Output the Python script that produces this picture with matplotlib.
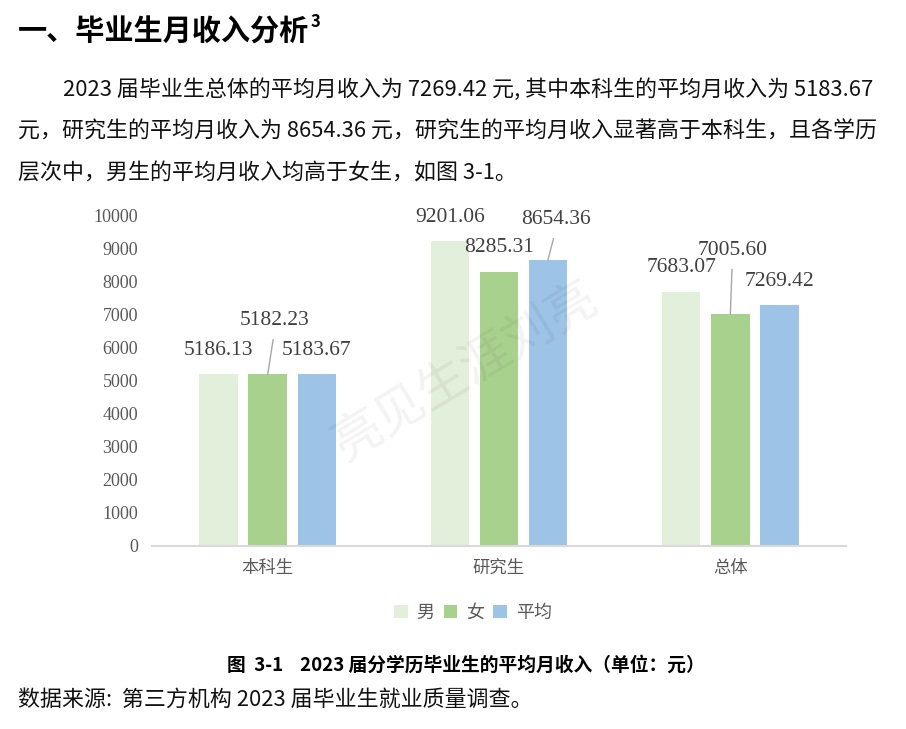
import matplotlib
matplotlib.use('Agg')
import matplotlib.pyplot as plt
from matplotlib.patches import Patch
import numpy as np

# 数据
categories = ['本科生', '研究生', '总体']
series_names = ['男', '女', '平均']
male = [5186.13, 9201.06, 7683.07]
female = [5182.23, 8285.31, 7005.60]
average = [5183.67, 8654.36, 7269.42]
yticks = [0, 1000, 2000, 3000, 4000, 5000, 6000, 7000, 8000, 9000, 10000]

heading = '一、毕业生月收入分析'
para_lines = [
    '2023 届毕业生总体的平均月收入为 7269.42 元, 其中本科生的平均月收入为 5183.67',
    '元，研究生的平均月收入为 8654.36 元，研究生的平均月收入显著高于本科生，且各学历',
    '层次中，男生的平均月收入均高于女生，如图 3-1。',
]
caption = '图  3-1    2023 届分学历毕业生的平均月收入（单位：元）'
source = '数据来源:  第三方机构 2023 届毕业生就业质量调查。'
watermark = '亮见生涯刘亮'

colors = ['#E2EFDA', '#A9D18E', '#9DC3E6']
CJK = ['Noto Sans CJK SC', 'DejaVu Sans']
NUM = ['Liberation Serif', 'Noto Sans CJK SC']
plt.rcParams['font.family'] = CJK

W, H = 906, 729
fig = plt.figure(figsize=(W / 100, H / 100), dpi=100)
fig.patch.set_facecolor('white')


def fx(px):
    return px / W


def fy(py):
    return 1 - py / H


# 标题与正文
ht = fig.text(fx(18), fy(32), heading, fontsize=21, fontweight='bold',
              ha='left', va='center', color='black')
fig.canvas.draw()
hx1 = ht.get_window_extent().x1
fig.text(hx1 / W + fx(1), fy(22), '3', fontsize=12, fontweight='bold',
         ha='left', va='center', color='black')
para_x = [63, 18, 18]
para_y = [90, 132, 173]
for t, x, y in zip(para_lines, para_x, para_y):
    fig.text(fx(x), fy(y), t, fontsize=15.8, ha='left', va='center',
             color='#111111')

# 主图
ax = fig.add_axes([fx(152), fy(546), fx(846) - fx(152), fy(215) - fy(546)])
x = np.arange(len(categories))
offsets = [-0.212, 0.0, 0.212]
bw = 0.166
series = [male, female, average]
for vals, off, c in zip(series, offsets, colors):
    ax.bar(x + off, vals, width=bw, color=c, zorder=2)

ax.set_xlim(-0.5, 2.5)
ax.set_ylim(0, 10000)
ax.set_yticks(yticks)
ax.set_yticklabels([str(v) for v in yticks], fontfamily=NUM, fontsize=13,
                   color='#595959')
ax.set_xticks(x)
ax.set_xticklabels(categories, fontsize=12.5, color='#595959')
ax.tick_params(axis='both', length=0)
ax.tick_params(axis='y', pad=10)
ax.tick_params(axis='x', pad=9)
for s in ['top', 'right', 'left']:
    ax.spines[s].set_visible(False)
ax.spines['bottom'].set_color('#D9D9D9')
ax.spines['bottom'].set_linewidth(1.5)

# 数据标签 (像素偏移, 带引线的标签单独处理)
label_offsets = {(0, 1): (7, 54), (1, 2): (8, 40), (2, 1): (2, 64)}
for si, (vals, off) in enumerate(zip(series, offsets)):
    for ci, v in enumerate(vals):
        dx, dy = label_offsets.get((ci, si), (0, 24))
        leader = (ci, si) in label_offsets
        ax.annotate(f'{v:.2f}', xy=(ci + off, v),
                    xytext=(dx * 0.72, dy * 0.72), textcoords='offset points',
                    ha='center', va='center', fontsize=15.5, fontfamily=NUM,
                    color='#404040', zorder=5,
                    arrowprops=dict(arrowstyle='-', color='#A6A6A6', lw=1,
                                    relpos=(0.5, 0), shrinkA=5, shrinkB=0)
                    if leader else None)

# 水印
fig.text(fx(465), fy(372), watermark, fontsize=36, rotation=31,
         ha='center', va='center', color='#000000', alpha=0.05, zorder=10)

# 图例
handles = [Patch(facecolor=c, edgecolor='none') for c in colors]
fig.legend(handles, series_names, loc='center', ncol=3,
           bbox_to_anchor=(fx(473), fy(613)), frameon=False,
           fontsize=13, labelcolor='#595959', handlelength=0.75,
           handleheight=0.75, handletextpad=0.5, columnspacing=0.5)

# 图注与来源
fig.text(fx(466), fy(665), caption, fontsize=13.5, fontweight='bold',
         ha='center', va='center', color='black')
fig.text(fx(18), fy(700), source, fontsize=15.8, ha='left', va='center',
         color='#111111')

fig.savefig('out.png', dpi=100)
plt.close(fig)
